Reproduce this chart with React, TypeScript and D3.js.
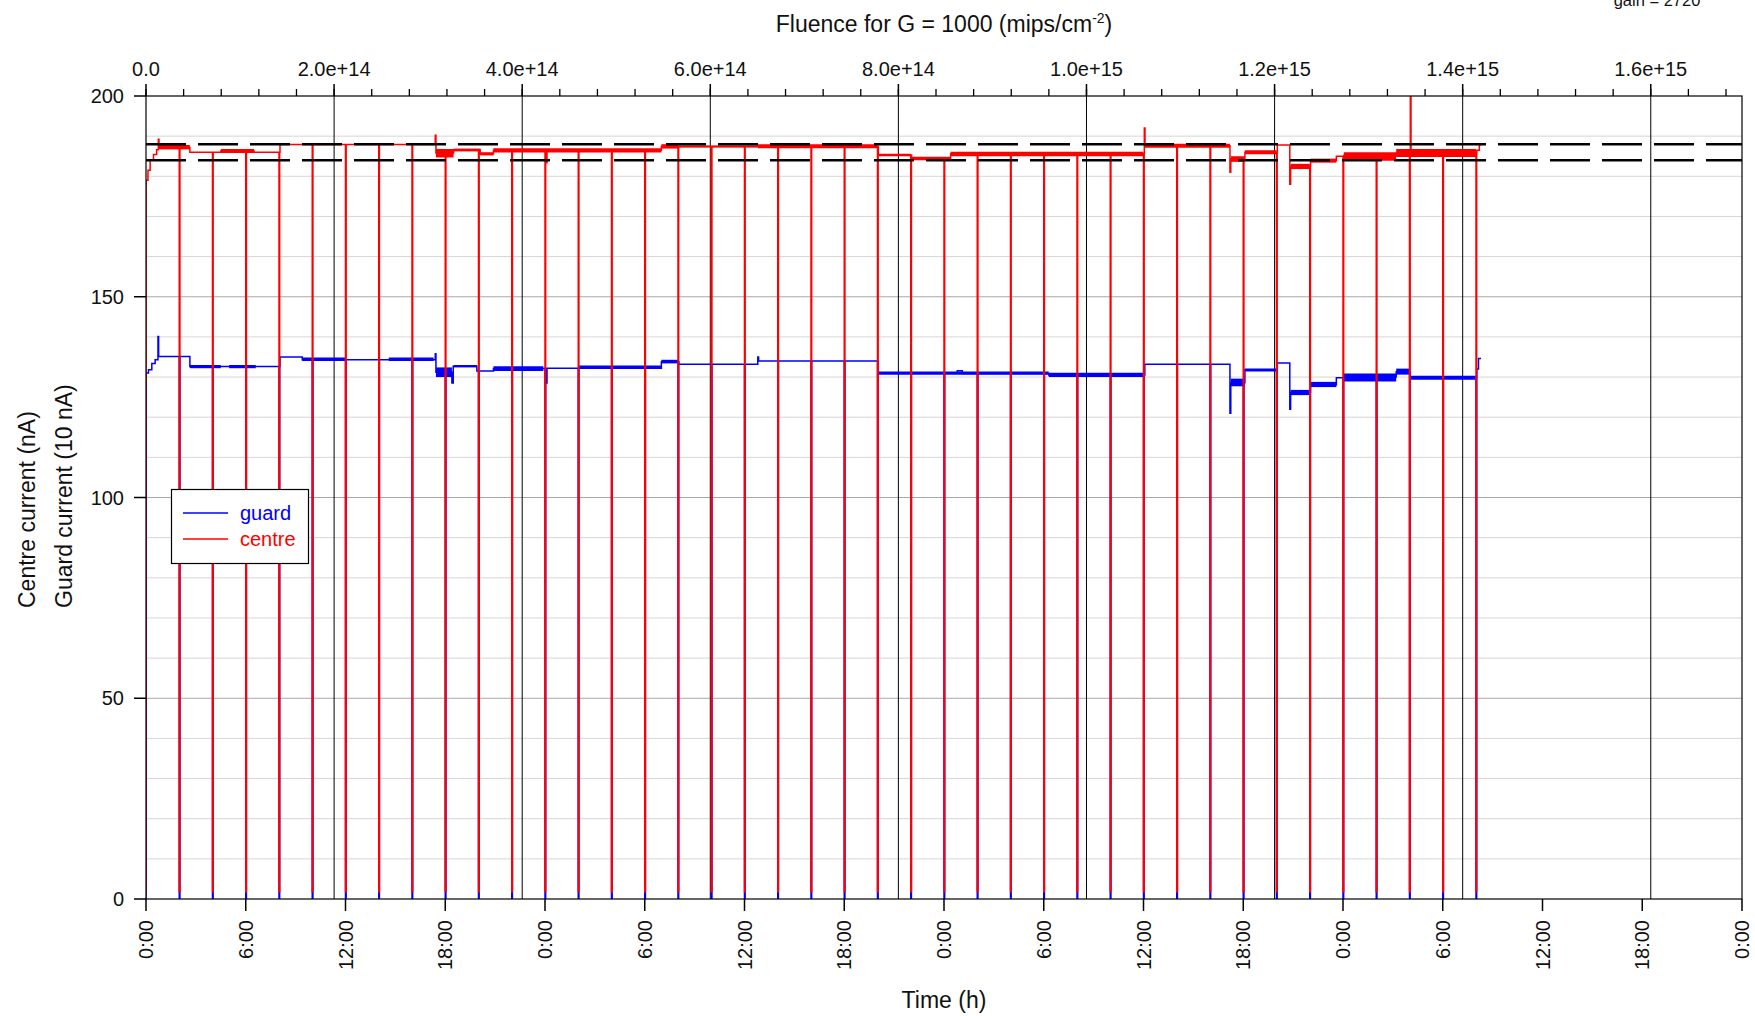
import React from "react";
import * as d3 from "d3";

// ---- chart data -------------------------------------------------------

// Time axis (hours from start) and its labels, every 6 h over four days
const timeTickHours = [0, 6, 12, 18, 24, 30, 36, 42, 48, 54, 60, 66, 72, 78, 84, 90, 96];
const timeTickLabels = [
  "0:00", "6:00", "12:00", "18:00", "0:00", "6:00", "12:00", "18:00",
  "0:00", "6:00", "12:00", "18:00", "0:00", "6:00", "12:00", "18:00", "0:00",
];

// Fluence axis (top)
const fluenceMajor = [0, 2e14, 4e14, 6e14, 8e14, 1e15, 1.2e15, 1.4e15, 1.6e15];
const fluenceLabels = ["0.0", "2.0e+14", "4.0e+14", "6.0e+14", "8.0e+14", "1.0e+15", "1.2e+15", "1.4e+15", "1.6e+15"];
const fluenceMinorStep = 4e13;
const fluenceMax = 1.697e15;

// Current axis
const yTicks = [0, 50, 100, 150, 200];
const yGridMinor = [10, 20, 30, 40, 60, 70, 80, 90, 110, 120, 130, 140, 160, 170, 180, 190];

// Centre-current tolerance band (nA)
const limitLines = [188, 184];

// Beam-off interruptions (h): both currents fall to zero
const dipHours = [
  2, 4, 6, 8, 10, 12, 14, 16, 18, 20, 22, 24, 26, 28, 30, 32, 34, 36, 38, 40,
  42, 44, 46, 48, 50, 52, 54, 56, 58, 60, 62, 64, 66, 68, 70, 72, 74, 76, 78, 80,
];
const centreFloor = 1.8;
const guardFloor = 0;
const dataEnd = 80.3;

// Centre current levels [hour, nA]; each value holds until the next entry
const centreSteps: [number, number][] = [
  [0, 179.0], [0.12, 181.5], [0.25, 184.0], [0.45, 185.4], [0.64, 186.6],
  [0.74, 189.2], [0.78, 187.2], [2.64, 186.0], [4.5, 186.3], [6.5, 186.0],
  [8.06, 187.9], [17.4, 190.2], [17.44, 185.8], [18.5, 186.6], [20.1, 185.6],
  [20.9, 186.5], [24.05, 183.4], [24.12, 186.5], [31.0, 187.4], [44.05, 185.3],
  [46.05, 184.4], [48.4, 185.6], [60.05, 192.0], [60.09, 187.6], [65.2, 181.0],
  [65.25, 184.3], [66.1, 186.0], [68.05, 187.8], [68.8, 178.0], [68.85, 182.5],
  [70.05, 183.9], [71.6, 185.0], [72.05, 185.2], [75.2, 185.8], [76.05, 205.0],
  [76.09, 185.8], [80.05, 186.5], [80.2, 187.8],
];

// Centre current fluctuation envelopes [from h, to h, low, high]
const centreBands: [number, number, number, number][] = [
  [0.78, 2.64, 186.7, 187.8], [4.5, 6.5, 185.8, 186.8], [17.44, 18.5, 184.7, 186.8],
  [18.5, 20.1, 186.2, 186.9], [20.1, 20.9, 185.2, 186.0], [20.9, 31.0, 185.9, 187.0],
  [31.0, 32.0, 186.9, 188.0], [32.0, 36.8, 187.2, 187.7], [36.8, 44.0, 187.0, 188.0],
  [44.05, 46.0, 185.0, 185.6], [46.05, 48.4, 184.0, 184.9], [48.4, 60.0, 185.0, 186.1],
  [60.09, 65.2, 187.1, 188.1], [65.25, 66.1, 183.6, 185.0], [66.1, 68.0, 185.5, 186.5],
  [68.85, 70.0, 181.8, 183.1], [70.05, 71.6, 183.4, 184.4], [72.05, 75.2, 183.9, 186.0],
  [75.2, 80.0, 184.8, 186.8],
];

// Guard current levels [hour, 10 nA]
const guardSteps: [number, number][] = [
  [0, 131.0], [0.15, 131.8], [0.35, 133.4], [0.55, 134.3], [0.72, 140.1],
  [0.76, 135.1], [2.64, 132.6], [8.06, 135.0], [9.4, 134.3], [17.4, 135.8],
  [17.44, 131.2], [18.4, 128.5], [18.48, 132.7], [19.9, 131.5], [20.9, 132.1],
  [24.05, 128.5], [24.12, 132.2], [31.0, 133.8], [32.05, 133.2], [36.8, 135.0],
  [36.85, 134.0], [44.05, 131.0], [48.8, 131.6], [49.1, 130.9], [54.3, 130.5],
  [60.08, 133.2], [65.2, 121.0], [65.25, 128.6], [66.1, 131.8], [68.05, 133.5],
  [68.8, 122.0], [68.85, 126.2], [70.05, 128.1], [71.6, 129.8], [72.05, 130.0],
  [75.2, 131.3], [76.05, 129.8], [80.05, 132.0], [80.15, 134.6],
];

// Guard current fluctuation envelopes [from h, to h, low, high]
const guardBands: [number, number, number, number][] = [
  [2.64, 4.5, 132.2, 133.0], [5.0, 6.6, 132.2, 133.0], [9.4, 12.0, 134.0, 134.9],
  [14.6, 17.3, 134.0, 134.9], [17.44, 18.4, 130.0, 132.4], [18.5, 19.9, 132.4, 133.0],
  [20.9, 23.9, 131.5, 132.7], [26.0, 31.0, 132.1, 132.9], [31.0, 32.0, 133.4, 134.3],
  [44.05, 54.3, 130.6, 131.4], [54.3, 60.0, 130.0, 131.1], [65.25, 66.1, 127.7, 129.6],
  [66.1, 68.0, 131.4, 132.1], [68.85, 70.0, 125.5, 126.8], [70.05, 71.6, 127.5, 128.8],
  [72.05, 75.2, 128.9, 130.9], [75.2, 76.0, 130.6, 132.1], [76.05, 80.0, 129.3, 130.3],
];

// ---- layout -------------------------------------------------------------

const W = 1755;
const H = 1016;
const L = 146;
const R = 1742;
const T = 96;
const B = 899;
const FONT = "'Liberation Sans', Arial, Helvetica, sans-serif";
const DIP_W = 0.04;

const x = d3.scaleLinear().domain([0, 96]).range([L, R]);
const xf = d3.scaleLinear().domain([0, fluenceMax]).range([L, R]);
const y = d3.scaleLinear().domain([0, 200]).range([B, T]);

type Ev = { h: number; v?: number; dip?: boolean };

// Vertex list of a stepped trace with the beam-off drops inserted
function trace(steps: [number, number][], dips: number[], floor: number, end: number) {
  const events: Ev[] = [
    ...steps.slice(1).map(([h, v]) => ({ h, v })),
    ...dips.map((h) => ({ h, dip: true })),
  ].sort((a, b) => a.h - b.h);
  const pts: [number, number][] = [
    [steps[0][0], floor],
    [steps[0][0], steps[0][1]],
  ];
  let cur = steps[0][1];
  for (const e of events) {
    if (e.dip) {
      pts.push([e.h, cur], [e.h, floor], [e.h + DIP_W, floor], [e.h + DIP_W, cur]);
    } else {
      pts.push([e.h, cur], [e.h, e.v as number]);
      cur = e.v as number;
    }
  }
  pts.push([end, cur]);
  return pts;
}

const line = d3
  .line<[number, number]>()
  .x((d) => x(d[0]))
  .y((d) => y(d[1]));

const band = d3
  .area<[number, number, number]>()
  .x((d) => x(d[0]))
  .y0((d) => y(d[1]))
  .y1((d) => y(d[2]));

function bandPath(b: [number, number, number, number]) {
  return band([
    [b[0], b[2], b[3]],
    [b[1], b[2], b[3]],
  ]) as string;
}

const GUARD = "#0000ff";
const CENTRE = "#ff0000";

export default function App() {
  const centrePts = trace(centreSteps, dipHours, centreFloor, dataEnd);
  const guardPts = trace(guardSteps, dipHours, guardFloor, dataEnd);
  const fluenceMinor = d3.range(0, fluenceMax, fluenceMinorStep);

  return (
    <svg
      width={W}
      height={H}
      viewBox={`0 0 ${W} ${H}`}
      style={{ position: "absolute", left: 0, top: 0, display: "block", background: "#fff" }}
      fontFamily={FONT}
    >
      <defs>
        <clipPath id="plot-area">
          <rect x={L} y={T} width={R - L} height={B - T} />
        </clipPath>
      </defs>
      <rect x={0} y={0} width={W} height={H} fill="#fff" />

      {/* horizontal grid */}
      {yGridMinor.map((v) => (
        <line key={`gm${v}`} x1={L} x2={R} y1={y(v)} y2={y(v)} stroke="#d6d6d6" strokeWidth={1} />
      ))}
      {yTicks.slice(1, -1).map((v) => (
        <line key={`gM${v}`} x1={L} x2={R} y1={y(v)} y2={y(v)} stroke="#a8a8a8" strokeWidth={1} />
      ))}

      {/* fluence grid */}
      {fluenceMajor.slice(1).map((f) => (
        <line key={`fv${f}`} x1={xf(f)} x2={xf(f)} y1={T} y2={B} stroke="#000" strokeWidth={1} />
      ))}

      {/* data */}
      <g clipPath="url(#plot-area)">
        {guardBands.map((b, i) => (
          <path key={`gb${i}`} d={bandPath(b)} fill={GUARD} />
        ))}
        <path d={line(guardPts) as string} fill="none" stroke={GUARD} strokeWidth={1.5} />
        {centreBands.map((b, i) => (
          <path key={`cb${i}`} d={bandPath(b)} fill={CENTRE} />
        ))}
        <path d={line(centrePts) as string} fill="none" stroke={CENTRE} strokeWidth={1.5} />
        {limitLines.map((v) => (
          <line
            key={`lim${v}`}
            x1={L}
            x2={R}
            y1={y(v)}
            y2={y(v)}
            stroke="#000"
            strokeWidth={2.6}
            strokeDasharray="40,12"
          />
        ))}
      </g>

      {/* frame */}
      <rect x={L} y={T} width={R - L} height={B - T} fill="none" stroke="#000" strokeWidth={1.2} />

      {/* left axis */}
      {yTicks.map((v) => (
        <g key={`yt${v}`}>
          <line x1={L - 12} x2={L} y1={y(v)} y2={y(v)} stroke="#000" strokeWidth={1.5} />
          <text x={L - 22} y={y(v)} dy="0.36em" textAnchor="end" fontSize={20} fill="#111">
            {v}
          </text>
        </g>
      ))}
      <text transform="translate(35,608) rotate(-90)" fontSize={23} fill="#111">
        Centre current (nA)
      </text>
      <text transform="translate(72,608) rotate(-90)" fontSize={23} fill="#111">
        Guard current (10 nA)
      </text>

      {/* bottom time axis */}
      {timeTickHours.map((h, i) => (
        <g key={`tt${h}`}>
          <line x1={x(h)} x2={x(h)} y1={B} y2={B + 12} stroke="#000" strokeWidth={1.5} />
          <text
            transform={`translate(${x(h)},${B + 21}) rotate(-90)`}
            dy="0.36em"
            textAnchor="end"
            fontSize={20}
            fill="#111"
          >
            {timeTickLabels[i]}
          </text>
        </g>
      ))}
      <text x={(L + R) / 2} y={1008} textAnchor="middle" fontSize={23} fill="#111">
        Time (h)
      </text>

      {/* top fluence axis */}
      {fluenceMinor.map((f) => (
        <line key={`fm${f}`} x1={xf(f)} x2={xf(f)} y1={T - 7} y2={T} stroke="#000" strokeWidth={1.3} />
      ))}
      {fluenceMajor.map((f, i) => (
        <g key={`fM${f}`}>
          <line x1={xf(f)} x2={xf(f)} y1={T - 12} y2={T} stroke="#000" strokeWidth={1.5} />
          <text x={xf(f)} y={76} textAnchor="middle" fontSize={20} fill="#111">
            {fluenceLabels[i]}
          </text>
        </g>
      ))}
      <text x={(L + R) / 2} y={32} textAnchor="middle" fontSize={23} fill="#111">
        Fluence for G = 1000 (mips/cm
        <tspan dy={-9} fontSize={14}>
          -2
        </tspan>
        <tspan dy={9}>)</tspan>
      </text>
      <text x={1657} y={6} textAnchor="middle" fontSize={16.5} fill="#111">
        gain = 2720
      </text>

      {/* legend */}
      <rect x={171.5} y={489.5} width={137} height={74} fill="#fff" stroke="#000" strokeWidth={1.2} />
      <line x1={183} x2={228} y1={513} y2={513} stroke={GUARD} strokeWidth={1.5} />
      <text x={240} y={520} fontSize={20} fill={GUARD}>
        guard
      </text>
      <line x1={183} x2={228} y1={539} y2={539} stroke={CENTRE} strokeWidth={1.5} />
      <text x={240} y={546} fontSize={20} fill={CENTRE}>
        centre
      </text>
    </svg>
  );
}
